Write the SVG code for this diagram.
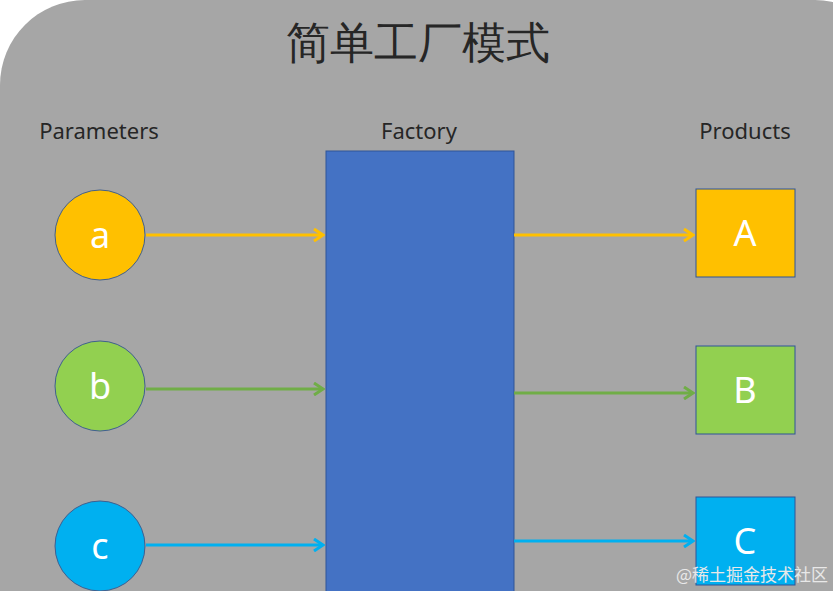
<svg xmlns="http://www.w3.org/2000/svg" width="833" height="591" viewBox="0 0 833 591">
<style>
.t{font-family:"Noto Sans","Liberation Sans",sans-serif;fill:#262626}
.n{font-family:"Noto Sans","Liberation Sans",sans-serif;fill:#fff;font-size:36px;text-anchor:middle}
.ln{fill:none;stroke-width:3}
</style>
<defs>
<marker id="my" markerWidth="12" markerHeight="14" refX="10" refY="7" orient="auto" markerUnits="userSpaceOnUse"><path d="M1,1 L10,7 L1,13" fill="none" stroke="#ffc000" stroke-width="3"/></marker>
<marker id="mg" markerWidth="12" markerHeight="14" refX="10" refY="7" orient="auto" markerUnits="userSpaceOnUse"><path d="M1,1 L10,7 L1,13" fill="none" stroke="#70ad47" stroke-width="3"/></marker>
<marker id="mb" markerWidth="12" markerHeight="14" refX="10" refY="7" orient="auto" markerUnits="userSpaceOnUse"><path d="M1,1 L10,7 L1,13" fill="none" stroke="#00b0f0" stroke-width="3"/></marker>
</defs>
<rect width="833" height="591" fill="#fff"/>
<rect x="0" y="0" width="900" height="700" rx="85" fill="#a6a6a6"/>
<text x="418" y="58" class="t" font-size="44" text-anchor="middle" font-family="Noto Sans CJK SC,sans-serif">简单工厂模式</text>
<text x="99" y="139" class="t" font-size="22" text-anchor="middle">Parameters</text>
<text x="419" y="139" class="t" font-size="22" text-anchor="middle">Factory</text>
<text x="745" y="139" class="t" font-size="22" text-anchor="middle">Products</text>
<g id="factory"><rect x="326" y="151" width="188" height="450" fill="#4472c4" stroke="#2f5597" stroke-width="1"/></g>
<g id="a"><circle cx="100" cy="235" r="45" fill="#ffc000" stroke="#3f5f8f" stroke-width="1"/><text x="100" y="248" class="n">a</text></g>
<g id="b"><circle cx="100" cy="386" r="45" fill="#92d050" stroke="#3f5f8f" stroke-width="1"/><text x="100" y="399" class="n">b</text></g>
<g id="c"><circle cx="100" cy="546" r="45" fill="#00b0f0" stroke="#3f5f8f" stroke-width="1"/><text x="100" y="559" class="n">c</text></g>
<g id="A"><rect x="696" y="189" width="99" height="88" fill="#ffc000" stroke="#2f5597" stroke-width="1"/><text x="745" y="246" class="n">A</text></g>
<g id="B"><rect x="696" y="346" width="99" height="88" fill="#92d050" stroke="#2f5597" stroke-width="1"/><text x="745" y="403" class="n">B</text></g>
<g id="C"><rect x="696" y="497" width="99" height="88" fill="#00b0f0" stroke="#2f5597" stroke-width="1"/><text x="745" y="554" class="n">C</text></g>
<g id="connectors">
<line x1="146" y1="235" x2="323" y2="235" class="ln" stroke="#ffc000" marker-end="url(#my)"/>
<line x1="514" y1="235" x2="693" y2="235" class="ln" stroke="#ffc000" marker-end="url(#my)"/>
<line x1="146" y1="389" x2="323" y2="389" class="ln" stroke="#70ad47" marker-end="url(#mg)"/>
<line x1="514" y1="393" x2="693" y2="393" class="ln" stroke="#70ad47" marker-end="url(#mg)"/>
<line x1="146" y1="545" x2="323" y2="545" class="ln" stroke="#00b0f0" marker-end="url(#mb)"/>
<line x1="514" y1="541" x2="693" y2="541" class="ln" stroke="#00b0f0" marker-end="url(#mb)"/>
</g>
<text x="828" y="581" font-size="17" text-anchor="end" fill="#e8e8e8" font-family="Noto Sans CJK SC,sans-serif">@稀土掘金技术社区</text>
</svg>
